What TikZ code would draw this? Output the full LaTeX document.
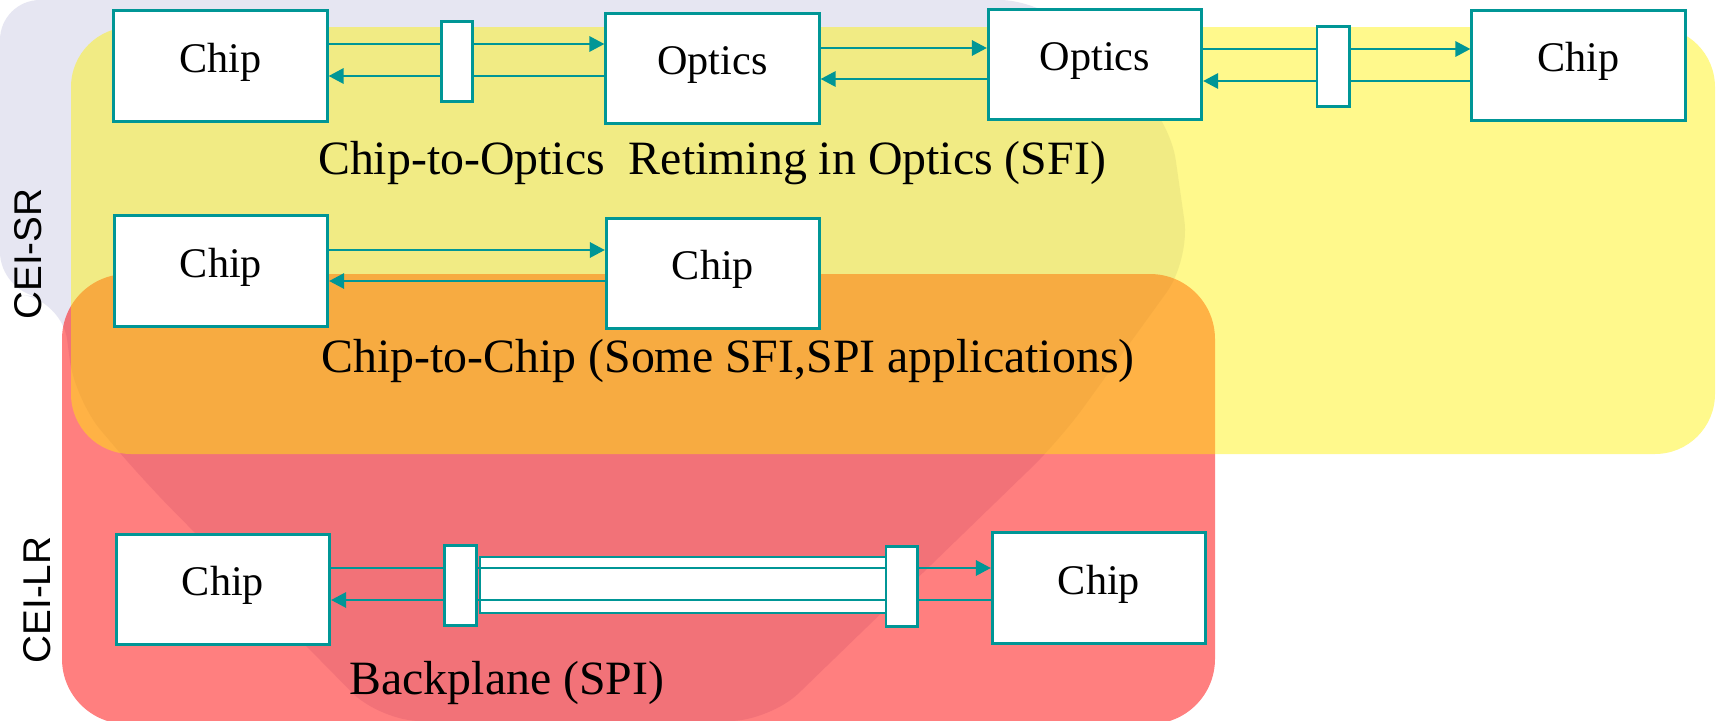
\documentclass[tikz,border=0pt]{standalone}
\usepackage{fontspec}
\setmainfont{Liberation Serif}
\newfontfamily\ceifont{Liberation Sans}
\usetikzlibrary{arrows.meta,calc}

\definecolor{tealline}{RGB}{0,150,150}
\definecolor{markgray}{RGB}{230,230,242}

\tikzset{
  chipbox/.style={draw=tealline, line width=0.85pt, fill=white, minimum width=2.13cm,
    minimum height=1.1cm, inner sep=0pt, text height=2.9mm, text depth=1.7mm,
    font=\fontsize{12}{14}\selectfont},
  tapbox/.style={draw=tealline, line width=0.85pt, fill=white, minimum width=0.3cm,
    minimum height=0.79cm, inner sep=0pt},
  link/.style={draw=tealline, line width=0.85pt},
  tip/.style={-{Triangle[length=4.3pt,width=4.3pt]}},
  lbl/.style={anchor=base, font=\fontsize{13.6}{16}\selectfont},
  cei/.style={rotate=90, font=\ceifont\fontsize{11}{13}\selectfont}
}

\begin{document}
\begin{tikzpicture}[x=0.01cm, y=-0.01cm]
    \clip (0,0) rectangle (1717,721);
    \fill[white] (0,0) rectangle (1717,721);
    \fill[markgray, rounded corners=0.4cm] (0,0) -- (1040,0) -- (1170,120) -- (1190,260) -- (1060,440)
        -- (770,721) -- (380,721) -- (143,480) -- (75,400) -- (62,300) -- (0,292) -- cycle;

    \fill[red, opacity=0.5, rounded corners=0.65cm] (62,274) rectangle (1215,724);
    \fill[yellow, opacity=0.45, rounded corners=0.6cm] (71,27) rectangle (1715,454);

    \node[chipbox] (chipA) at (220.5,66) {Chip};
    \node[chipbox] (optA) at (712.5,68.5) {Optics};
    \node[chipbox] (optB) at (1095,64.5) {Optics};
    \node[chipbox] (chipB) at (1578.5,65.5) {Chip};

    \node[chipbox] (chipC) at (221,271) {Chip};
    \node[chipbox] (chipD) at (713,273.5) {Chip};

    \node[chipbox] (chipE) at (223,589.5) {Chip};
    \node[chipbox] (chipF) at (1099,588) {Chip};

    \draw[link, fill=white] (480,557) rectangle (886,613);

    \foreach \a/\b/\u/\l in {chipA/optA/44/76, optA/optB/48/79, optB/chipB/49/81,
        chipC/chipD/250/281, chipE/chipF/568/600}{
        \draw[link, tip] (\a.east |- 0,\u) -- (\b.west |- 0,\u);
        \draw[link, tip] (\b.west |- 0,\l) -- (\a.east |- 0,\l);
    }

    \node[tapbox] (tapA) at (457,61.5) {};
    \node[tapbox, minimum width=0.32cm] (tapB) at (1333,66.5) {};
    \node[tapbox, minimum width=0.31cm] (tapC) at (460.5,585.5) {};
    \node[tapbox, minimum width=0.31cm] (tapD) at (901.5,586.5) {};

    \node[lbl] (lblA) at (712,174) {Chip-to-Optics\ \ Retiming in Optics (SFI)};
    \node[lbl] (lblB) at (728,372) {Chip-to-Chip (Some SFI,SPI applications)};
    \node[lbl] (lblC) at (507,694) {Backplane (SPI)};

    \node[cei] (ceiSR) at (28,254) {CEI-SR};
    \node[cei] (ceiLR) at (37,600) {CEI-LR};
\end{tikzpicture}
\end{document}
